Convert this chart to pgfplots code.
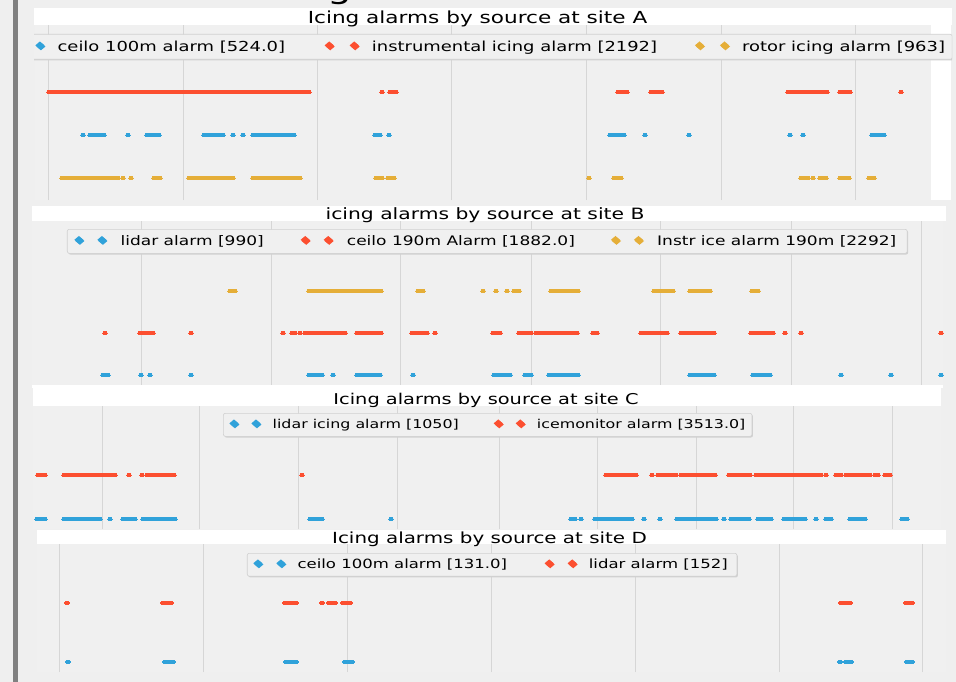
\documentclass[border=0pt]{standalone}
\usepackage{pgfplots}
\pgfplotsset{compat=1.18}
\usetikzlibrary{shadows}
\usepackage{fontspec}
\setmainfont{DejaVu Sans}[FakeStretch=1.3]
\definecolor{cblue}{HTML}{30A2DA}
\definecolor{cred}{HTML}{FC4F30}
\definecolor{cyel}{HTML}{E5AE38}
\definecolor{axbg}{HTML}{F0F0F0}
\definecolor{outbg}{HTML}{EFEFEF}
\definecolor{gridc}{HTML}{D6D6D6}
\definecolor{legc}{HTML}{D0D0D0}
\definecolor{barc}{HTML}{808080}
\pgfplotsset{
  alarmaxis/.style={
    scale only axis, anchor=north west, clip=false,
    axis background/.style={fill=axbg},
    axis line style={draw=none},
    major tick length=0pt, major tick style={draw=none},
    xticklabel=\empty, ytick=\empty,
    xmajorgrids, ymajorgrids=false,
    grid style={gridc, line width=0.9pt},
    legend cell align=left,
    legend style={anchor=north west, fill=axbg, draw=legc, line width=0.6pt,
      rounded corners=2pt, column sep=0pt,
      drop shadow={shadow xshift=1pt, shadow yshift=-1.2pt, fill=black!18, opacity=1},
      nodes={inner sep=0pt}},
    legend image code/.code={%
      \fill[yshift=1.5pt] (0pt,0pt) ellipse (1.9pt and 1.6pt) (\legdd,0pt) ellipse (1.9pt and 1.6pt);
      \path (\legtg,0pt);},
  },
  alarm/.style={color=#1, line width=3.4pt, line cap=round, mark=*, mark size=1.8pt,
    mark options={line width=0pt, draw=#1, fill=#1, xscale=1.25, solid}, unbounded coords=jump},
}
\begin{document}
\begin{tikzpicture}
\useasboundingbox (0pt,0pt) rectangle (956pt,-682pt);
\fill[outbg] (0pt,0pt) rectangle (956pt,-682pt);
\fill[barc] (13pt,0pt) rectangle (18pt,-682pt);
\node[anchor=base, inner sep=0pt, font=\fontsize{30}{30}\selectfont] at (340pt,1pt) {g};
% ---------------- panel A
\fill[white] (34pt,-8pt) rectangle (952pt,-25pt);
\fill[white] (931pt,-25pt) rectangle (951pt,-200pt);
\begin{scope}
\clip (34pt,-8pt) rectangle (952pt,-200pt);
\def\legdd{25pt}\def\legtg{41pt}
\begin{axis}[alarmaxis, at={(35pt,-25pt)}, width=896pt, height=175pt,
  xmin=35, xmax=931, ymin=-0.51, ymax=3.56,
  xtick={48,183,317,451,586,721,855},
  title={Icing alarms by source at site A},
  every axis title/.style={at={(0.4939,1)}, anchor=base, yshift=1pt, inner sep=0pt,
    font=\fontsize{16.6}{18}\selectfont},
  legend columns=3,
  legend style={at={(-0.0357,0.9486)}, inner xsep=8pt, inner ysep=6.5pt,
    nodes={text height=10.5pt, text depth=1.5pt}, font=\fontsize{13.8}{15}\selectfont}]
\addplot[alarm=cblue] coordinates {(83,1)(0,nan)(90,1)(95,1)(0,nan)(99,1)(104,1)(0,nan)(128,1)(0,nan)(147,1)(159,1)(0,nan)(204,1)(223,1)(0,nan)(233,1)(0,nan)(243,1)(0,nan)(253,1)(294,1)(0,nan)(375,1)(380,1)(0,nan)(389,1)(0,nan)(610,1)(624,1)(0,nan)(645,1)(0,nan)(689,1)(0,nan)(790,1)(0,nan)(803,1)(0,nan)(872,1)(884,1)};
\addlegendentry{\makebox[268pt][l]{ceilo 100m alarm [524.0]}}
\addplot[alarm=cred] coordinates {(49,2)(309,2)(0,nan)(382,2)(0,nan)(390,2)(396,2)(0,nan)(618,2)(627,2)(0,nan)(651,2)(662,2)(0,nan)(788,2)(827,2)(0,nan)(840,2)(850,2)(0,nan)(901,2)};
\addlegendentry{\makebox[324pt][l]{instrumental icing alarm [2192]}}
\addplot[alarm=cyel] coordinates {(62,0)(118,0)(0,nan)(123,0)(0,nan)(131,0)(0,nan)(154,0)(160,0)(0,nan)(189,0)(211,0)(0,nan)(214,0)(233,0)(0,nan)(253,0)(300,0)(0,nan)(376,0)(382,0)(0,nan)(388,0)(394,0)(0,nan)(589,0)(0,nan)(614,0)(621,0)(0,nan)(801,0)(808,0)(0,nan)(813,0)(0,nan)(820,0)(826,0)(0,nan)(840,0)(849,0)(0,nan)(869,0)(874,0)};
\addlegendentry{\makebox[202pt][l]{rotor icing alarm [963]}}
\end{axis}
\end{scope}
% ---------------- panel B
\fill[white] (32pt,-206pt) rectangle (946pt,-221pt);
\fill[white] (32pt,-385pt) rectangle (943pt,-388pt);
\def\legdd{23pt}\def\legtg{40pt}
\begin{axis}[alarmaxis, at={(32pt,-221pt)}, width=911pt, height=164pt,
  xmin=32, xmax=943, ymin=-0.238, ymax=3.667,
  xtick={141,271,400,531,660,791,921},
  title={icing alarms by source at site B},
  every axis title/.style={at={(0.4973,1)}, anchor=base, yshift=1.7pt, inner sep=0pt,
    font=\fontsize{15.6}{17}\selectfont},
  legend columns=3,
  legend style={at={(0.0384,0.9512)}, inner xsep=8pt, inner ysep=6pt,
    nodes={text height=10pt, text depth=2pt}, font=\fontsize{13.1}{15}\selectfont}]
\addplot[alarm=cblue] coordinates {(103,0)(108,0)(0,nan)(141,0)(0,nan)(150,0)(0,nan)(191,0)(0,nan)(309,0)(322,0)(0,nan)(333,0)(0,nan)(357,0)(380,0)(0,nan)(413,0)(0,nan)(494,0)(510,0)(0,nan)(525,0)(531,0)(0,nan)(549,0)(578,0)(0,nan)(690,0)(714,0)(0,nan)(753,0)(770,0)(0,nan)(841,0)(0,nan)(891,0)(0,nan)(941,0)};
\addlegendentry{\makebox[181pt][l]{lidar alarm [990]}}
\addplot[alarm=cred] coordinates {(105,1)(0,nan)(140,1)(144,1)(0,nan)(147,1)(153,1)(0,nan)(191,1)(0,nan)(283,1)(0,nan)(292,1)(295,1)(0,nan)(300,1)(0,nan)(305,1)(345,1)(0,nan)(357,1)(381,1)(0,nan)(412,1)(427,1)(0,nan)(435,1)(0,nan)(493,1)(500,1)(0,nan)(519,1)(531,1)(0,nan)(536,1)(577,1)(0,nan)(593,1)(597,1)(0,nan)(641,1)(658,1)(0,nan)(662,1)(667,1)(0,nan)(681,1)(687,1)(0,nan)(690,1)(714,1)(0,nan)(751,1)(773,1)(0,nan)(785,1)(0,nan)(801,1)(0,nan)(941,1)};
\addlegendentry{\makebox[265pt][l]{ceilo 190m Alarm [1882.0]}}
\addplot[alarm=cyel] coordinates {(230,2)(235,2)(0,nan)(309,2)(381,2)(0,nan)(418,2)(423,2)(0,nan)(483,2)(0,nan)(496,2)(0,nan)(507,2)(0,nan)(514,2)(519,2)(0,nan)(551,2)(565,2)(0,nan)(568,2)(578,2)(0,nan)(654,2)(665,2)(0,nan)(668,2)(673,2)(0,nan)(690,2)(700,2)(0,nan)(703,2)(710,2)(0,nan)(752,2)(758,2)};
\addlegendentry{\makebox[242pt][l]{Instr ice alarm 190m [2292]}}
\end{axis}
% ---------------- panel C
\fill[white] (33pt,-388pt) rectangle (941pt,-406pt);
\def\legdd{22pt}\def\legtg{37pt}
\begin{axis}[alarmaxis, at={(33pt,-406pt)}, width=908pt, height=123pt,
  xmin=33, xmax=941, ymin=-0.227, ymax=2.568,
  xtick={102,199,298,397,499,597,696,793,892},
  title={Icing alarms by source at site C},
  every axis title/.style={at={(0.4989,1)}, anchor=base, yshift=2pt, inner sep=0pt,
    font=\fontsize{14.9}{16}\selectfont},
  legend columns=2,
  legend style={at={(0.2093,0.9431)}, inner xsep=7pt, inner ysep=6pt,
    nodes={text height=9.3pt, text depth=1.7pt}, font=\fontsize{12.2}{14}\selectfont}]
\addplot[alarm=cblue] coordinates {(37,0)(45,0)(0,nan)(64,0)(90,0)(0,nan)(94,0)(100,0)(0,nan)(110,0)(0,nan)(123,0)(135,0)(0,nan)(143,0)(155,0)(0,nan)(159,0)(175,0)(0,nan)(310,0)(322,0)(0,nan)(391,0)(0,nan)(571,0)(575,0)(0,nan)(581,0)(0,nan)(595,0)(632,0)(0,nan)(644,0)(0,nan)(660,0)(0,nan)(677,0)(700,0)(0,nan)(704,0)(716,0)(0,nan)(724,0)(0,nan)(731,0)(749,0)(0,nan)(758,0)(771,0)(0,nan)(784,0)(801,0)(0,nan)(805,0)(0,nan)(816,0)(0,nan)(826,0)(831,0)(0,nan)(850,0)(865,0)(0,nan)(902,0)(907,0)};
\addlegendentry{\makebox[222pt][l]{lidar icing alarm [1050]}}
\addplot[alarm=cred] coordinates {(38,1)(45,1)(0,nan)(64,1)(0,nan)(68,1)(115,1)(0,nan)(129,1)(0,nan)(142,1)(0,nan)(147,1)(174,1)(0,nan)(302,1)(0,nan)(606,1)(636,1)(0,nan)(652,1)(0,nan)(658,1)(676,1)(0,nan)(681,1)(715,1)(0,nan)(729,1)(750,1)(0,nan)(756,1)(818,1)(0,nan)(821,1)(0,nan)(826,1)(0,nan)(836,1)(841,1)(0,nan)(846,1)(870,1)(0,nan)(875,1)(0,nan)(878,1)(0,nan)(885,1)(890,1)};
\addlegendentry{\makebox[208pt][l]{icemonitor alarm [3513.0]}}
\end{axis}
% ---------------- panel D
\fill[white] (37pt,-530pt) rectangle (946pt,-544pt);
\def\legdd{23pt}\def\legtg{38pt}
\begin{axis}[alarmaxis, at={(37pt,-544pt)}, width=909pt, height=128pt,
  xmin=37, xmax=946, ymin=-0.17, ymax=2.0,
  xtick={59,203,347,491,635,779,922},
  title={Icing alarms by source at site D},
  every axis title/.style={at={(0.4978,1)}, anchor=base, yshift=0.7pt, inner sep=0pt,
    font=\fontsize{15.3}{17}\selectfont},
  legend columns=2,
  legend style={at={(0.2310,0.9297)}, inner xsep=7pt, inner ysep=5.6pt,
    nodes={text height=9.7pt, text depth=2pt}, font=\fontsize{12.7}{14}\selectfont}]
\addplot[alarm=cblue] coordinates {(68,0)(0,nan)(165,0)(173,0)(0,nan)(286,0)(296,0)(0,nan)(345,0)(352,0)(0,nan)(840,0)(0,nan)(846,0)(851,0)(0,nan)(907,0)(912,0)};
\addlegendentry{\makebox[248pt][l]{ceilo 100m alarm [131.0]}}
\addplot[alarm=cred] coordinates {(67,1)(0,nan)(163,1)(171,1)(0,nan)(285,1)(296,1)(0,nan)(322,1)(0,nan)(329,1)(335,1)(0,nan)(343,1)(350,1)(0,nan)(841,1)(850,1)(0,nan)(906,1)(912,1)};
\addlegendentry{\makebox[141pt][l]{lidar alarm [152]}}
\end{axis}
\end{tikzpicture}
\end{document}
